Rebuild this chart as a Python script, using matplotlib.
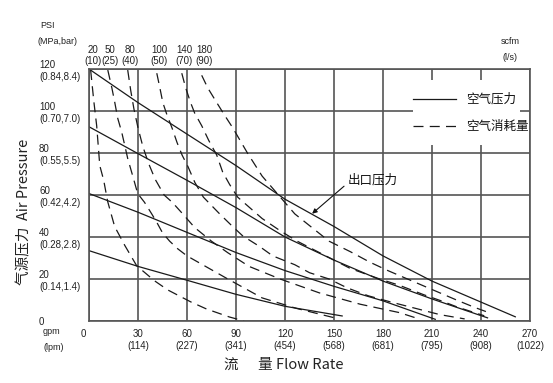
import matplotlib.pyplot as plt
from matplotlib.lines import Line2D
from matplotlib.patches import Rectangle

# axis scales
flow_gpm = [0, 30, 60, 90, 120, 150, 180, 210, 240, 270]
flow_lpm = ['', '114', '227', '341', '454', '568', '681', '795', '908', '1022']
psi_ticks = [0, 20, 40, 60, 80, 100, 120]
psi_mpa_bar = ['', '(0.14,1.4)', '(0.28,2.8)', '(0.42,4.2)', '(0.55,5.5)', '(0.70,7.0)', '(0.84,8.4)']

# air pressure curves (solid), flow in gpm / outlet pressure in psi
p120_flow = [0, 30, 60, 90, 120, 150, 180, 210, 240, 261]
p120_psi = [120, 104, 89, 74, 58, 45, 31, 19, 9, 2]
p90_flow = [0, 30, 60, 90, 120, 150, 180, 210, 244]
p90_psi = [92.5, 79.7, 67, 54, 40, 29, 19, 10.5, 1.5]
p60_flow = [0, 30, 60, 90, 120, 150, 180, 212]
p60_psi = [60.7, 51.8, 42.2, 32.6, 24, 16.5, 9.6, 0.8]
p30_flow = [0, 30, 60, 90, 120, 155]
p30_psi = [33.5, 26, 19.4, 12.7, 7, 2.4]

# air consumption curves (dashed)
scfm = ['20', '50', '80', '100', '140', '180']
lps = ['10', '25', '40', '50', '70', '90']
c20_flow = [1, 2.9, 4.7, 6.6, 9, 11.4, 15.7, 21.9, 29.2, 40.2, 48.2, 62.3, 72, 86, 95]
c20_psi = [119.5, 105, 93, 74, 67, 57, 45, 36, 26.3, 19.1, 14.8, 9.1, 5.7, 1.9, 0]
c50_flow = [11.5, 14, 15.8, 17.6, 20, 21.9, 23.7, 26.8, 29.8, 34, 38.4, 41.5, 45, 49.4, 54.3, 60, 85, 106, 127, 153]
c50_psi = [119.5, 111, 104, 96.5, 90, 83.6, 77.4, 69, 60.7, 56.5, 51, 47, 42, 38, 34.4, 31, 20, 11, 6, 1]
c80_flow = [23.7, 25.5, 27.5, 30, 33, 36.5, 40.5, 46, 51, 56.7, 64.7, 75, 85, 98, 117, 141, 166, 190, 200]
c80_psi = [119.5, 110, 101, 92, 83, 75, 67.5, 60, 56.5, 51.6, 44.5, 38, 32.5, 26, 20, 13.4, 8, 4, 1.5]
c100_flow = [41.5, 43.4, 45.2, 47.8, 50.8, 53.9, 57, 60.6, 64.8, 70, 80, 87.4, 94, 104.6, 112.5, 126, 135, 147, 158, 171, 185, 200, 215, 230]
c100_psi = [118, 111, 104, 98, 92, 85, 79, 73.5, 66, 59, 51, 45.4, 40.6, 35.4, 31, 26.8, 23, 20, 15.8, 12, 9, 6, 3, 1]
c140_flow = [56.8, 59.2, 62.2, 64.7, 69, 73.3, 78.2, 81.8, 86.1, 91, 106, 117, 127, 146, 160, 178, 190, 205, 216, 226, 242]
c140_psi = [118, 111, 104, 99, 93, 86, 79, 71, 65, 59, 48.8, 43, 38.2, 30.6, 25, 20, 17, 12.5, 9.5, 6.5, 2.5]
c180_flow = [69, 72.7, 78.2, 83, 88, 97, 106, 116, 126, 147, 160, 172, 183, 195, 210, 225, 236, 243]
c180_psi = [117, 111, 104, 98, 92, 80, 69, 60, 51, 38, 33, 28, 24, 20, 15, 10, 6.5, 4.5]

pressure_curves = [(p120_flow, p120_psi), (p90_flow, p90_psi), (p60_flow, p60_psi), (p30_flow, p30_psi)]
air_curves = [(c20_flow, c20_psi), (c50_flow, c50_psi), (c80_flow, c80_psi),
              (c100_flow, c100_psi), (c140_flow, c140_psi), (c180_flow, c180_psi)]

cjk = ['Noto Sans CJK SC', 'DejaVu Sans']
plt.rcParams['font.family'] = ['Liberation Sans', 'DejaVu Sans']

fig = plt.figure(figsize=(5.53, 3.83), dpi=100)
ax = fig.add_axes([89 / 553, 62 / 383, 441 / 553, 252 / 383])
ax.set_xlim(0, 270)
ax.set_ylim(0, 120)

line_color = '#1a1a1a'
dash = (8, 5)
for f, p in pressure_curves:
  ax.plot(f, p, color=line_color, lw=0.9)
for f, p in air_curves:
  ax.plot(f, p, color=line_color, lw=0.9, dashes=dash)

# grid and frame
ax.set_xticks(flow_gpm)
ax.set_xticklabels(['0    '] + [f'{g}\n({l})' for g, l in zip(flow_gpm[1:], flow_lpm[1:])])
ax.set_yticks(psi_ticks)
ax.set_yticklabels(['0'] + [f'{p}\n{m}' for p, m in zip(psi_ticks[1:], psi_mpa_bar[1:])])
ax.grid(color='#555555', lw=1.2)
ax.set_axisbelow(True)
for s in ax.spines.values():
  s.set_color('#555555')
  s.set_linewidth(1.2)
ax.tick_params(axis='both', length=0, labelsize=7, colors='#222222')
ax.tick_params(axis='x', pad=6)
ax.tick_params(axis='y', pad=36)
for lab in ax.get_yticklabels():
  lab.set_horizontalalignment('left')

# consumption labels along the top
for (f, p), s, l in zip(air_curves, scfm, lps):
  ax.text(f[0] + 1.5, 121.5, f'{s}\n({l})', ha='center', va='bottom', fontsize=7, color='#222222',
          linespacing=1.1)

# unit labels
fig.text(40 / 553, 1 - 25 / 383, 'PSI', fontsize=6.5, va='center', color='#222222')
fig.text(37 / 553, 1 - 42 / 383, '(MPa,bar)', fontsize=6.5, va='center', color='#222222')
fig.text(43 / 553, 1 - 332 / 383, 'gpm', fontsize=6.5, va='center', color='#222222')
fig.text(43 / 553, 1 - 348 / 383, '(lpm)', fontsize=6.5, va='center', color='#222222')
fig.text(510 / 553, 1 - 42 / 383, 'scfm', fontsize=6.5, va='center', ha='center', color='#222222')
fig.text(510 / 553, 1 - 57 / 383, '(l/s)', fontsize=6.5, va='center', ha='center', color='#222222')

# axis titles
fig.text(24 / 553, 1 - 212 / 383, '气源压力  Air Pressure', rotation=90, ha='center', va='center',
         fontsize=10.5, family=cjk, color='#222222')
fig.text(284 / 553, 1 - 365 / 383, '流      量 Flow Rate', ha='center', va='center',
         fontsize=10.5, family=cjk, color='#222222')

# outlet pressure callout
ax.annotate('出口压力', xy=(136.6, 51.1), xytext=(158.5, 67), fontsize=9, family=cjk,
            ha='left', va='center', color='#111111',
            arrowprops=dict(arrowstyle='-|>', color='#111111', lw=0.8, mutation_scale=7,
                            shrinkA=1, shrinkB=0, relpos=(0, 0.3)))

# legend on a white patch that hides the grid behind it
ax.add_patch(Rectangle((0.735, 0.698), 0.242, 0.258, transform=ax.transAxes,
                       facecolor='white', edgecolor='none', zorder=4))
handles = [Line2D([], [], color=line_color, lw=0.9),
           Line2D([], [], color=line_color, lw=0.9, dashes=dash)]
leg = ax.legend(handles, ['空气压力', '空气消耗量'], loc='upper left', bbox_to_anchor=(0.735, 0.905),
                prop={'family': cjk, 'size': 9}, handlelength=3.4, handletextpad=0.8,
                labelspacing=1.15, borderpad=0, borderaxespad=0, frameon=False)
leg.set_zorder(5)
for t in leg.get_texts():
  t.set_color('#111111')

fig.savefig('out.png', dpi=100, facecolor='w')
plt.close('all')
